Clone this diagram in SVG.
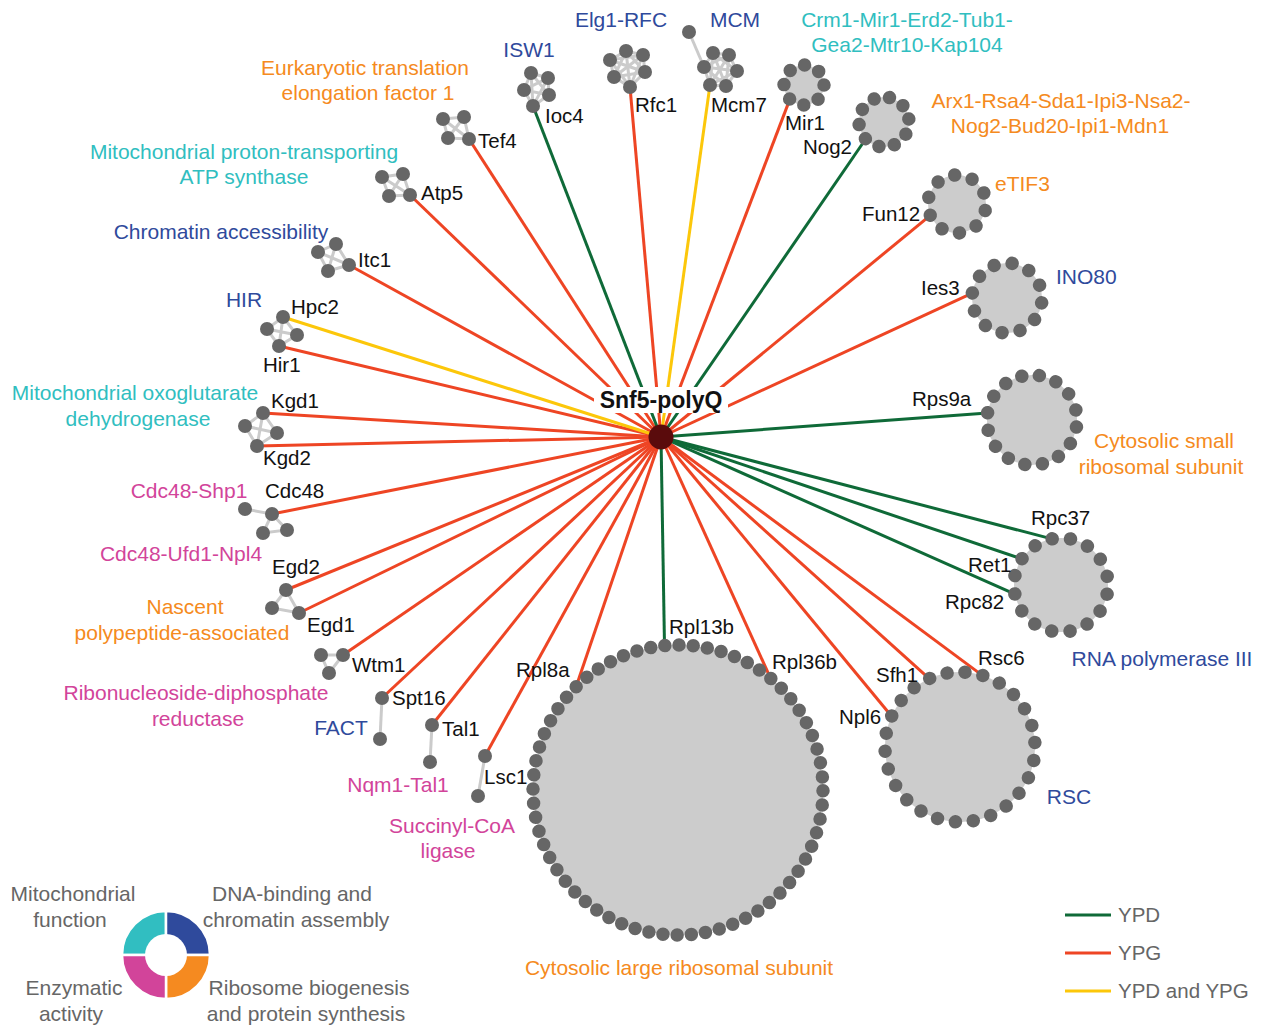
<svg xmlns="http://www.w3.org/2000/svg" width="1264" height="1025" viewBox="0 0 1264 1025">
<style>
text{font-family:"Liberation Sans",Arial,Helvetica,sans-serif}
.n{fill:#666}
.e{stroke:#cbcbcb;stroke-width:3;fill:none}
.disk{fill:#cccccc}
.ring{fill:none;stroke:#666;stroke-linecap:round;stroke-width:13.5}
.c line{stroke-width:3}
.r{stroke:#ee4524}
.g{stroke:#0f6a38}
.y{stroke:#fcc70a}
.lab{font-size:20.5px;fill:#111}
.cat{font-size:21px;text-anchor:middle}
.cl{font-size:21px}
.blue{fill:#2f4a9c}
.teal{fill:#30bec0}
.orange{fill:#f58a20}
.mag{fill:#d2449a}
.leg{font-size:21px;fill:#666;text-anchor:middle}
</style>
<rect width="1264" height="1025" fill="#fff"/>
<g id="connectors" class="c">
<line class="r" x1="661" y1="437" x2="630" y2="87"/>
<line class="r" x1="661" y1="437" x2="789.9" y2="99.1"/>
<line class="r" x1="661" y1="437" x2="930.3" y2="215.3"/>
<line class="r" x1="661" y1="437" x2="972.3" y2="293.1"/>
<line class="r" x1="661" y1="437" x2="982.3" y2="675.4"/>
<line class="r" x1="661" y1="437" x2="929.2" y2="678.6"/>
<line class="r" x1="661" y1="437" x2="891.6" y2="716.3"/>
<line class="r" x1="661" y1="437" x2="770.6" y2="678.4"/>
<line class="r" x1="661" y1="437" x2="576" y2="686.9"/>
<line class="r" x1="661" y1="437" x2="485" y2="756"/>
<line class="r" x1="661" y1="437" x2="432" y2="725"/>
<line class="r" x1="661" y1="437" x2="382" y2="698"/>
<line class="r" x1="661" y1="437" x2="343" y2="655"/>
<line class="r" x1="661" y1="437" x2="299" y2="613"/>
<line class="r" x1="661" y1="437" x2="286" y2="590"/>
<line class="r" x1="661" y1="437" x2="272" y2="514"/>
<line class="r" x1="661" y1="437" x2="257" y2="446"/>
<line class="r" x1="661" y1="437" x2="263" y2="413"/>
<line class="r" x1="661" y1="437" x2="279" y2="346"/>
<line class="r" x1="661" y1="437" x2="349" y2="265"/>
<line class="r" x1="661" y1="437" x2="410" y2="195"/>
<line class="r" x1="661" y1="437" x2="469" y2="139"/>
<line class="g" x1="661" y1="437" x2="533" y2="106"/>
<line class="g" x1="661" y1="437" x2="865.7" y2="139"/>
<line class="g" x1="661" y1="437" x2="987.6" y2="413"/>
<line class="g" x1="661" y1="437" x2="1051.8" y2="538.9"/>
<line class="g" x1="661" y1="437" x2="1021.9" y2="558.9"/>
<line class="g" x1="661" y1="437" x2="1014.9" y2="594.2"/>
<line class="g" x1="661" y1="437" x2="664.5" y2="645.6"/>
<line class="y" x1="661" y1="437" x2="710" y2="85"/>
<line class="y" x1="661" y1="437" x2="283" y2="317"/>
</g>

<g id="ISW1">
<polygon class="e" points="531,73 548,78 549,95 533,106 524,90"/>
<polygon class="e" points="531,73 549,95 524,90 548,78 533,106"/>
<circle class="n" cx="531" cy="73" r="7"/><circle class="n" cx="548" cy="78" r="7"/><circle class="n" cx="549" cy="95" r="7"/><circle class="n" cx="533" cy="106" r="7"/><circle class="n" cx="524" cy="90" r="7"/>
<text class="cat blue" x="529" y="57">ISW1</text>
<text class="lab" x="545" y="123">Ioc4</text>
</g>

<g id="Elg1-RFC">
<polygon class="e" points="626,51 643,55 645,72 630,87 614,77 610,60"/>
<polygon class="e" points="626,51 645,72 614,77"/>
<polygon class="e" points="643,55 630,87 610,60"/>
<path class="e" d="M626 51L630 87M643 55L614 77M645 72L610 60"/>
<circle class="n" cx="626" cy="51" r="7"/><circle class="n" cx="643" cy="55" r="7"/><circle class="n" cx="645" cy="72" r="7"/><circle class="n" cx="630" cy="87" r="7"/><circle class="n" cx="614" cy="77" r="7"/><circle class="n" cx="610" cy="60" r="7"/>
<text class="cat blue" x="621" y="27">Elg1-RFC</text>
<text class="lab" x="635" y="112">Rfc1</text>
</g>

<g id="MCM">
<line class="e" x1="689" y1="32" x2="704" y2="67"/>
<polygon class="e" points="713,53 729,55 737,71 726,86 710,85 704,67"/>
<polygon class="e" points="713,53 737,71 710,85"/>
<polygon class="e" points="729,55 726,86 704,67"/>
<path class="e" d="M713 53L726 86M729 55L710 85M737 71L704 67"/>
<circle class="n" cx="689" cy="32" r="7"/>
<circle class="n" cx="713" cy="53" r="7"/><circle class="n" cx="729" cy="55" r="7"/><circle class="n" cx="737" cy="71" r="7"/><circle class="n" cx="726" cy="86" r="7"/><circle class="n" cx="710" cy="85" r="7"/><circle class="n" cx="704" cy="67" r="7"/>
<text class="cat blue" x="735" y="27">MCM</text>
<text class="lab" x="711" y="112">Mcm7</text>
</g>

<g id="Crm1">
<circle class="disk" cx="804" cy="85" r="20"/>
<circle class="ring" cx="804" cy="85" r="20" stroke-dasharray="0 15.708"/>
<text class="cat teal" x="907" y="27">Crm1-Mir1-Erd2-Tub1-</text>
<text class="cat teal" x="907" y="52">Gea2-Mtr10-Kap104</text>
<text class="lab" x="785" y="130">Mir1</text>
</g>

<g id="Arx1">
<circle class="disk" cx="884" cy="122" r="25"/>
<circle class="ring" cx="884" cy="122" r="25" stroke-dasharray="0 15.708" transform="rotate(-7 884 122)"/>
<text class="cat orange" x="1061" y="108">Arx1-Rsa4-Sda1-Ipi3-Nsa2-</text>
<text class="cat orange" x="1060" y="133">Nog2-Bud20-Ipi1-Mdn1</text>
<text class="lab" x="803" y="154">Nog2</text>
</g>

<g id="eTIF3">
<circle class="disk" cx="957" cy="204" r="29"/>
<circle class="ring" cx="957" cy="204" r="29" stroke-dasharray="0 18.2212" transform="rotate(13 957 204)"/>
<text class="cl orange" x="995" y="191">eTIF3</text>
<text class="lab" x="862" y="221">Fun12</text>
</g>

<g id="INO80">
<circle class="disk" cx="1007" cy="298" r="35"/>
<circle class="ring" cx="1007" cy="298" r="35" stroke-dasharray="0 18.326" transform="rotate(8 1007 298)"/>
<text class="cl blue" x="1056" y="284">INO80</text>
<text class="lab" x="921" y="295">Ies3</text>
</g>

<g id="small-ribosome">
<circle class="disk" cx="1032" cy="420" r="45"/>
<circle class="ring" cx="1032" cy="420" r="45" stroke-dasharray="0 17.6715" transform="rotate(9 1032 420)"/>
<text class="cat orange" x="1164" y="448">Cytosolic small</text>
<text class="cat orange" x="1161" y="474">ribosomal subunit</text>
<text class="lab" x="912" y="406">Rps9a</text>
</g>

<g id="RNA-pol-III">
<circle class="disk" cx="1061" cy="585" r="47"/>
<circle class="ring" cx="1061" cy="585" r="47" stroke-dasharray="0 18.4569" transform="rotate(11.25 1061 585)"/>
<text class="cat blue" x="1162" y="666">RNA polymerase III</text>
<text class="lab" x="1031" y="525">Rpc37</text>
<text class="lab" x="968" y="572">Ret1</text>
<text class="lab" x="945" y="609">Rpc82</text>
</g>

<g id="RSC">
<circle class="disk" cx="960" cy="747" r="75"/>
<circle class="ring" cx="960" cy="747" r="75" stroke-dasharray="0 18.1246" transform="rotate(-3.5 960 747)"/>
<text class="cat blue" x="1069" y="804">RSC</text>
<text class="lab" x="978" y="665">Rsc6</text>
<text class="lab" x="876" y="682">Sfh1</text>
<text class="lab" x="839" y="724">Npl6</text>
</g>

<g id="large-ribosome">
<circle class="disk" cx="678" cy="790" r="145"/>
<circle class="ring" cx="678" cy="790" r="145" stroke-dasharray="0 14.2353" transform="rotate(0.3 678 790)"/>
<text class="cat orange" x="679" y="975">Cytosolic large ribosomal subunit</text>
<text class="lab" x="669" y="634">Rpl13b</text>
<text class="lab" x="772" y="669">Rpl36b</text>
<text class="lab" x="516" y="677">Rpl8a</text>
</g>

<g id="eEF1">
<path class="e" d="M443 119L464 117L469 139L448 138ZM443 119L469 139M464 117L448 138"/>
<circle class="n" cx="443" cy="119" r="7"/><circle class="n" cx="464" cy="117" r="7"/><circle class="n" cx="448" cy="138" r="7"/><circle class="n" cx="469" cy="139" r="7"/>
<text class="cat orange" x="365" y="75">Eurkaryotic translation</text>
<text class="cat orange" x="368" y="100">elongation factor 1</text>
<text class="lab" x="478" y="148">Tef4</text>
</g>

<g id="ATP-synthase">
<path class="e" d="M382 177L403 174L410 195L389 196ZM382 177L410 195M403 174L389 196"/>
<circle class="n" cx="382" cy="177" r="7"/><circle class="n" cx="403" cy="174" r="7"/><circle class="n" cx="389" cy="196" r="7"/><circle class="n" cx="410" cy="195" r="7"/>
<text class="cat teal" x="244" y="159">Mitochondrial proton-transporting</text>
<text class="cat teal" x="244" y="184">ATP synthase</text>
<text class="lab" x="421" y="200">Atp5</text>
</g>

<g id="chromatin-accessibility">
<path class="e" d="M318 252L336 244L349 265L328 271ZM318 252L349 265M336 244L328 271"/>
<circle class="n" cx="318" cy="252" r="7"/><circle class="n" cx="336" cy="244" r="7"/><circle class="n" cx="328" cy="271" r="7"/><circle class="n" cx="349" cy="265" r="7"/>
<text class="cat blue" x="221" y="239">Chromatin accessibility</text>
<text class="lab" x="358" y="267">Itc1</text>
</g>

<g id="HIR">
<path class="e" d="M283 317L297 335L279 346L267 329ZM283 317L279 346M297 335L267 329"/>
<circle class="n" cx="283" cy="317" r="7"/><circle class="n" cx="267" cy="329" r="7"/><circle class="n" cx="297" cy="335" r="7"/><circle class="n" cx="279" cy="346" r="7"/>
<text class="cat blue" x="244" y="307">HIR</text>
<text class="lab" x="291" y="314">Hpc2</text>
<text class="lab" x="263" y="372">Hir1</text>
</g>

<g id="oxoglutarate-dehydrogenase">
<path class="e" d="M263 413L277 433L257 446L245 426ZM263 413L257 446M277 433L245 426"/>
<circle class="n" cx="263" cy="413" r="7"/><circle class="n" cx="245" cy="426" r="7"/><circle class="n" cx="277" cy="433" r="7"/><circle class="n" cx="257" cy="446" r="7"/>
<text class="cat teal" x="135" y="400">Mitochondrial oxoglutarate</text>
<text class="cat teal" x="138" y="426">dehydrogenase</text>
<text class="lab" x="271" y="408">Kgd1</text>
<text class="lab" x="263" y="465">Kgd2</text>
</g>

<g id="Cdc48">
<path class="e" d="M245 509L272 514L263 533L287 530L272 514"/>
<circle class="n" cx="245" cy="509" r="7"/><circle class="n" cx="272" cy="514" r="7"/><circle class="n" cx="263" cy="533" r="7"/><circle class="n" cx="287" cy="530" r="7"/>
<text class="cat mag" x="189" y="498">Cdc48-Shp1</text>
<text class="cat mag" x="181" y="561">Cdc48-Ufd1-Npl4</text>
<text class="lab" x="265" y="498">Cdc48</text>
</g>

<g id="NAC">
<polygon class="e" points="286,590 299,613 272,608"/>
<circle class="n" cx="286" cy="590" r="7"/><circle class="n" cx="272" cy="608" r="7"/><circle class="n" cx="299" cy="613" r="7"/>
<text class="cat orange" x="185" y="614">Nascent</text>
<text class="cat orange" x="182" y="640">polypeptide-associated</text>
<text class="lab" x="272" y="574">Egd2</text>
<text class="lab" x="307" y="632">Egd1</text>
</g>

<g id="RNR">
<polygon class="e" points="321,655 343,655 329,673"/>
<circle class="n" cx="321" cy="655" r="7"/><circle class="n" cx="343" cy="655" r="7"/><circle class="n" cx="329" cy="673" r="7"/>
<text class="cat mag" x="196" y="700">Ribonucleoside-diphosphate</text>
<text class="cat mag" x="198" y="726">reductase</text>
<text class="lab" x="352" y="672">Wtm1</text>
</g>

<g id="FACT">
<line class="e" x1="382" y1="698" x2="380" y2="739"/>
<circle class="n" cx="382" cy="698" r="7"/><circle class="n" cx="380" cy="739" r="7"/>
<text class="cat blue" x="341" y="735">FACT</text>
<text class="lab" x="392" y="705">Spt16</text>
</g>

<g id="Nqm1-Tal1">
<line class="e" x1="432" y1="725" x2="430" y2="762"/>
<circle class="n" cx="432" cy="725" r="7"/><circle class="n" cx="430" cy="762" r="7"/>
<text class="cat mag" x="398" y="792">Nqm1-Tal1</text>
<text class="lab" x="442" y="736">Tal1</text>
</g>

<g id="Succinyl-CoA-ligase">
<line class="e" x1="485" y1="756" x2="478" y2="796"/>
<circle class="n" cx="485" cy="756" r="7"/><circle class="n" cx="478" cy="796" r="7"/>
<text class="cat mag" x="452" y="833">Succinyl-CoA</text>
<text class="cat mag" x="448" y="858">ligase</text>
<text class="lab" x="484" y="784">Lsc1</text>
</g>

<g id="Snf5-polyQ">
<circle cx="661" cy="437" r="12.5" fill="#5a0b0c"/>
<rect x="594" y="387" width="134" height="26" fill="#fff"/>
<text x="661" y="408" text-anchor="middle" font-size="23" font-weight="bold" fill="#111">Snf5-polyQ</text>
</g>

<g id="category-legend">
<g stroke="#fff" stroke-width="2.5">
<path d="M166 955L122 955A44 44 0 0 1 166 911Z" fill="#31bec1"/>
<path d="M166 955L166 911A44 44 0 0 1 210 955Z" fill="#2f4a9c"/>
<path d="M166 955L210 955A44 44 0 0 1 166 999Z" fill="#f58a20"/>
<path d="M166 955L166 999A44 44 0 0 1 122 955Z" fill="#d2449a"/>
</g>
<circle cx="166" cy="955" r="21" fill="#fff"/>
<text class="leg" x="73" y="901">Mitochondrial</text>
<text class="leg" x="70" y="927">function</text>
<text class="leg" x="292" y="901">DNA-binding and</text>
<text class="leg" x="296" y="927">chromatin assembly</text>
<text class="leg" x="74" y="995">Enzymatic</text>
<text class="leg" x="71" y="1021">activity</text>
<text class="leg" x="309" y="995">Ribosome biogenesis</text>
<text class="leg" x="306" y="1021">and protein synthesis</text>
</g>

<g id="condition-legend" font-size="20.5" fill="#666">
<line x1="1065" y1="915" x2="1111" y2="915" stroke="#0f6a38" stroke-width="3"/>
<line x1="1065" y1="953" x2="1111" y2="953" stroke="#ee4524" stroke-width="3"/>
<line x1="1065" y1="991" x2="1111" y2="991" stroke="#fcc70a" stroke-width="3"/>
<text x="1118" y="922">YPD</text>
<text x="1118" y="960">YPG</text>
<text x="1118" y="998">YPD and YPG</text>
</g>
</svg>
